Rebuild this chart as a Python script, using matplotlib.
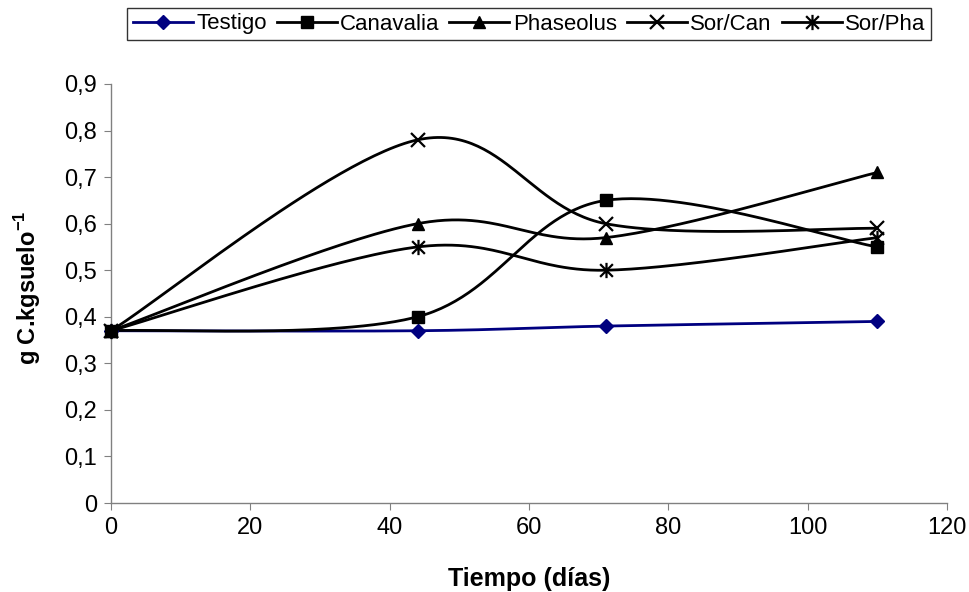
import numpy as np
import matplotlib
matplotlib.use("Agg")
import matplotlib.pyplot as plt
from matplotlib.path import Path
from matplotlib.ticker import FuncFormatter, MultipleLocator

plt.rcParams['font.family'] = ['Liberation Sans', 'DejaVu Sans']
plt.rcParams['mathtext.fontset'] = 'custom'
plt.rcParams['mathtext.rm'] = 'Liberation Sans'
plt.rcParams['mathtext.bf'] = 'Liberation Sans:bold'

dias = [0, 44, 71, 110]
testigo = [0.37, 0.37, 0.38, 0.39]
canavalia = [0.37, 0.40, 0.65, 0.55]
phaseolus = [0.37, 0.60, 0.57, 0.71]
sor_can = [0.37, 0.78, 0.60, 0.59]
sor_pha = [0.37, 0.55, 0.50, 0.57]
nombres = ["Testigo", "Canavalia", "Phaseolus", "Sor/Can", "Sor/Pha"]


def smooth(x, y, n=60):
    x = np.asarray(x, float); y = np.asarray(y, float)
    P = np.column_stack([x, y])
    out = []
    for i in range(len(P) - 1):
        p0 = P[i - 1] if i > 0 else P[i]
        p1 = P[i]; p2 = P[i + 1]
        p3 = P[i + 2] if i + 2 < len(P) else P[i + 1]
        c1 = p1 + (p2 - p0) / 6.0
        c2 = p2 - (p3 - p1) / 6.0
        t = np.linspace(0, 1, n)[:, None]
        seg = (1 - t) ** 3 * p1 + 3 * (1 - t) ** 2 * t * c1 + 3 * (1 - t) * t ** 2 * c2 + t ** 3 * p2
        out.append(seg if i == 0 else seg[1:])
    s = np.vstack(out)
    return s[:, 0], s[:, 1]

aster = Path([(-1, -1), (1, 1), (-1, 1), (1, -1), (0, -1.2), (0, 1.2)],
             [Path.MOVETO, Path.LINETO, Path.MOVETO, Path.LINETO, Path.MOVETO, Path.LINETO])

fig = plt.figure(figsize=(9.7, 5.92), dpi=100)
ax = fig.add_axes([111/970, 1-503/592, (947-111)/970, (503-84)/592])

series = [testigo, canavalia, phaseolus, sor_can, sor_pha]
styles = [dict(color='#000080', marker='D', ms=7),
          dict(color='black', marker='s', ms=8),
          dict(color='black', marker='^', ms=9),
          dict(color='black', marker='x', ms=10, mew=1.6),
          dict(color='black', marker=aster, ms=11, mew=1.6)]

handles = []
for vals, st, nm in zip(series, styles, nombres):
    sx, sy = smooth(dias, vals)
    ax.plot(sx, sy, color=st['color'], lw=2.0, zorder=2)
    ax.plot(dias, vals, linestyle='none', color=st['color'], marker=st['marker'],
            ms=st['ms'], mew=st.get('mew', 1), zorder=3, clip_on=False)
    h, = ax.plot([], [], color=st['color'], lw=2.0, marker=st['marker'],
                 ms=st['ms'], mew=st.get('mew', 1), label=nm)
    handles.append(h)

ax.set_xlim(0, 120)
ax.set_ylim(0, 0.9)
ax.xaxis.set_major_locator(MultipleLocator(20))
ax.yaxis.set_major_locator(MultipleLocator(0.1))
ax.yaxis.set_major_formatter(FuncFormatter(lambda v, p: ('%.1f' % v).replace('.', ',') if abs(v) > 1e-9 else '0'))
ax.xaxis.set_major_formatter(FuncFormatter(lambda v, p: '%d' % round(v)))
for s in ['top', 'right']:
    ax.spines[s].set_visible(False)
for s in ['left', 'bottom']:
    ax.spines[s].set_color('#808080')
    ax.spines[s].set_linewidth(1.0)
ax.tick_params(axis='both', direction='out', length=5, color='#808080', labelsize=17, pad=5)

ax.set_xlabel('Tiempo (días)', fontsize=18, fontweight='bold')
ax.xaxis.set_label_coords(0.5, (503 - 567) / 419)
ax.set_ylabel(r'g C.kgsuelo$^{\mathbf{-1}}$', fontsize=17, fontweight='bold')
ax.yaxis.set_label_coords((43 - 111) / 836, (503 - 288) / 419)

leg = fig.legend(handles=handles, loc='center', bbox_to_anchor=(529/970, 1-24/592), ncol=5,
                 frameon=True, fancybox=False, edgecolor='black', fontsize=16,
                 handlelength=2.7, handletextpad=0.15, columnspacing=0.45,
                 borderpad=0.25, borderaxespad=0)
leg.get_frame().set_linewidth(1.0)

fig.savefig('out.png', dpi=100)
